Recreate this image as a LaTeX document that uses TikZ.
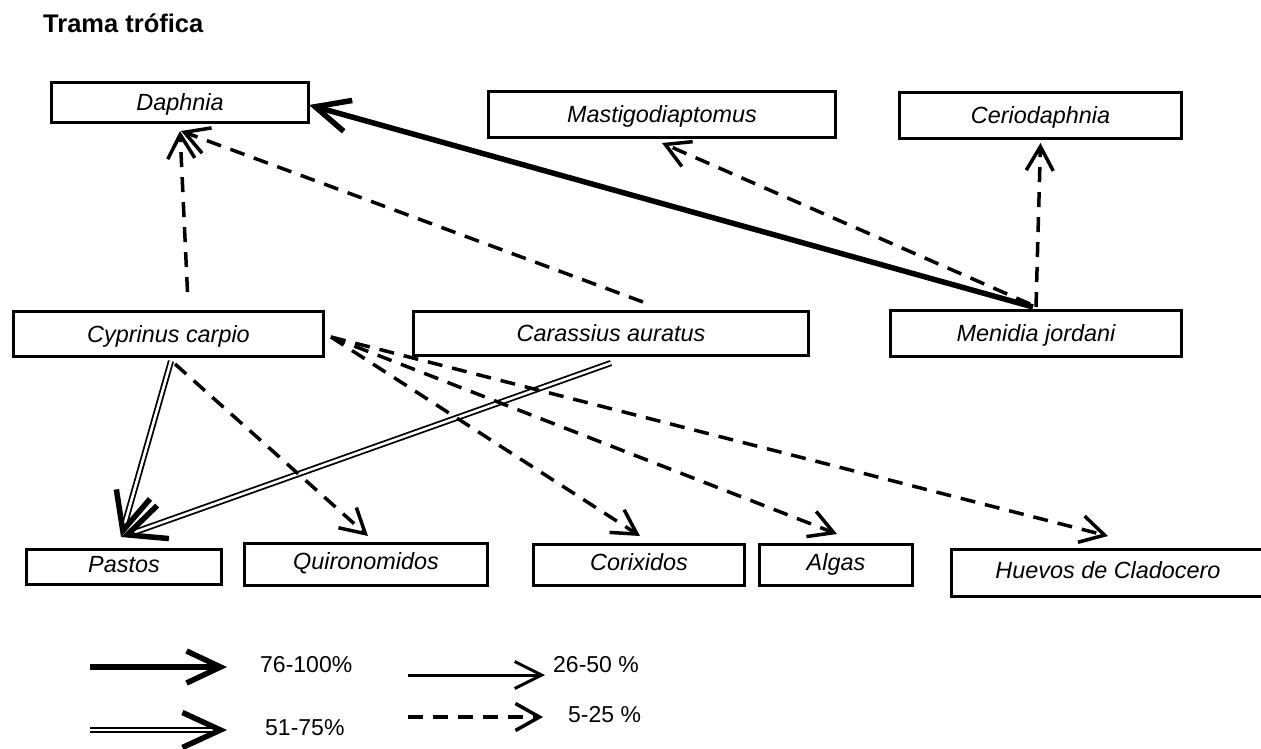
\documentclass[tikz,border=0pt]{standalone}
\usepackage{fontspec}
\setmainfont{Liberation Sans}
\usetikzlibrary{arrows.meta,calc}
\begin{document}
\begin{tikzpicture}[x=1pt,y=-1pt,
  box/.style={draw, line width=3pt, inner sep=0pt, text height=16.8pt, text depth=0pt,
    font=\fontsize{23.4}{28}\selectfont\itshape},
  lowtext/.style={text depth=6pt},
  thick arrow/.style={line width=5.5pt, -{Straight Barb[length=34pt,width=32pt]}},
  thin arrow/.style={line width=3pt, -{Straight Barb[length=27pt,width=27pt]}},
  dash arrow/.style={line width=3.5pt, dash pattern=on 15pt off 10pt,
    -{Straight Barb[length=24pt,width=27pt]}},
  dbl line/.style={line width=1.8pt, double=white, double distance=2.6pt, shorten >=7pt},
  dbl tip/.style={white, line width=0.4pt,
    -{Straight Barb[length=38pt,width=35pt,line width=5.5pt,color=black]}},
  lab/.style={anchor=west, inner sep=0pt, font=\fontsize{23}{27}\selectfont}
]
\useasboundingbox (0,0) rectangle (1261,748);
\fill[white] (0,0) rectangle (1261,748);
\clip (0,0) rectangle (1261,748);

\node[anchor=base west, inner sep=0pt, font=\fontsize{25.5}{30}\selectfont\bfseries] (title) at (43,32) {Trama trófica};

% boxes
\node[box, minimum width=257pt, minimum height=40pt] (daph) at (180,102.5) {Daphnia};
\node[box, minimum width=347pt, minimum height=46pt] (mast) at (662,114.5) {Mastigodiaptomus};
\node[box, minimum width=282pt, minimum height=46pt] (cerio) at (1040.5,115.5) {Ceriodaphnia};
\node[box, minimum width=310pt, minimum height=45pt] (cyp) at (168.5,334) {Cyprinus carpio};
\node[box, minimum width=395pt, minimum height=44pt] (cara) at (611,333.5) {Carassius auratus};
\node[box, minimum width=291pt, minimum height=46pt] (meni) at (1036,333.5) {Menidia jordani};
\node[box, lowtext, minimum width=195pt, minimum height=35pt] (past) at (124,567) {Pastos};
\node[box, lowtext, minimum width=243pt, minimum height=42pt] (quir) at (366,564.5) {Quironomidos};
\node[box, lowtext, minimum width=211pt, minimum height=41pt] (cori) at (639,565) {Corixidos};
\node[box, lowtext, minimum width=153pt, minimum height=41pt] (alg) at (836,565) {Algas};
\node[box, lowtext, minimum width=313pt, minimum height=47pt] (huev) at (1108,573) {Huevos de Cladocero};

% connectors
\draw[thick arrow] ($(meni.north)+(-3,-2)$) -- ($(daph.east)+(-1,2.5)$);
\draw[dash arrow] ($(meni.north)+(-6,-5)$) -- ($(mast.south)+(0,4)$);
\draw[dash arrow] ($(meni.north)+(0,-2)$) -- ($(cerio.south)+(0,3)$);
\draw[dash arrow] ($(cyp.north)+(19,-18)$) -- ($(daph.south)+(0,7)$);
\draw[dash arrow] ($(cara.north)+(32,-8)$) -- ($(daph.south)+(1,7)$);

\draw[dbl line] ($(cyp.south)+(2.5,3)$) -- ($(past.north)+(-3,-11)$);
\draw[dbl tip] ($(cyp.south)+(2.5,3)$) -- ($(past.north)+(-3,-11)$);
\draw[dbl line] ($(cara.south)+(0,6)$) -- ($(past.north)+(-3,-11)$);
\draw[dbl tip] ($(cara.south)+(0,6)$) -- ($(past.north)+(-3,-11)$);

\draw[dash arrow] ($(cyp.south)+(6.5,6)$) -- ($(quir.north)+(2,-6)$);
\draw[dash arrow] ($(cyp.east)+(6,3)$) -- ($(cori.north)+(1,-7)$);
\draw[dash arrow] ($(cyp.east)+(6,3)$) -- ($(alg.north)+(1,-9)$);
\draw[dash arrow] ($(cyp.east)+(6,3)$) -- ($(huev.north)+(0,-12)$);

% legend
\coordinate (l1a) at (90,667);  \coordinate (l1b) at (227,667);
\coordinate (l2a) at (408,675); \coordinate (l2b) at (545,675);
\coordinate (l3a) at (90,730);  \coordinate (l3b) at (227,730);
\coordinate (l4a) at (408,717); \coordinate (l4b) at (543,717);
\draw[thick arrow] (l1a) -- (l1b);
\draw[thin arrow] (l2a) -- (l2b);
\draw[dbl line] (l3a) -- (l3b);
\draw[dbl tip] (l3a) -- (l3b);
\draw[dash arrow] (l4a) -- (l4b);
\node[lab] (t1) at (260,665) {76-100\%};
\node[lab] (t2) at (553,665) {26-50 \%};
\node[lab] (t3) at (265,728) {51-75\%};
\node[lab] (t4) at (568,715) {5-25 \%};
\end{tikzpicture}
\end{document}
